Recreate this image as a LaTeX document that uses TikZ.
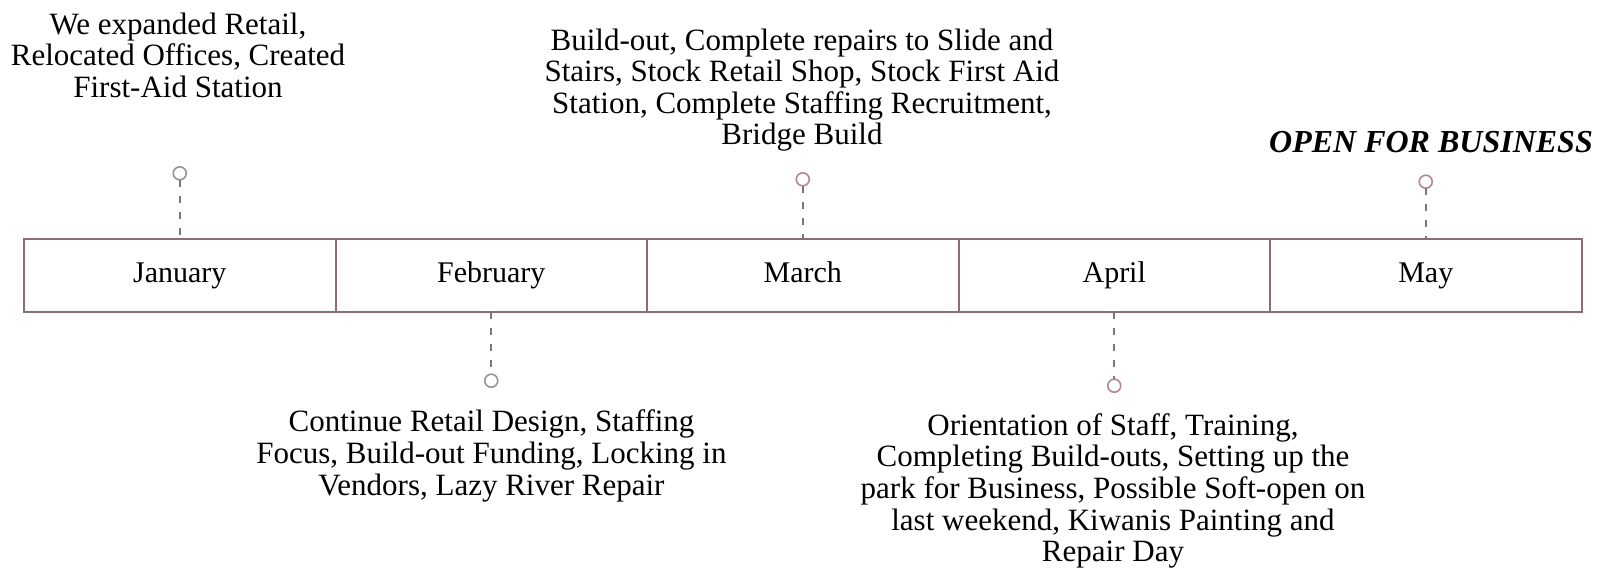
\documentclass[tikz,border=0pt]{standalone}
\usepackage{fontspec}
\setmainfont{Liberation Serif}
\definecolor{barline}{RGB}{143,108,116}
\definecolor{stemgray}{RGB}{120,120,120}
\definecolor{pingray}{RGB}{150,148,150}
\definecolor{pinrose}{RGB}{180,135,145}
\begin{document}
\begin{tikzpicture}[x=0.5pt,y=-0.5pt,
  every node/.style={inner sep=0pt, outer sep=0pt},
  monthcell/.style={draw=barline, line width=1pt, minimum width=155.75pt,
    minimum height=36.5pt, text height=10pt, text depth=3pt,
    font=\fontsize{15}{16}\selectfont},
  pin/.style={circle, draw=#1, line width=0.8pt, minimum size=6.5pt, fill=white},
  stem/.style={draw=stemgray, line width=0.8pt, dash pattern=on 3.5pt off 4.5pt},
  note/.style={align=center, font=\fontsize{15.5}{15.8}\selectfont}
]
\fill[white] (0,0) rectangle (1602,575);
\useasboundingbox (0,0) rectangle (1602,575);

% timeline bar: one cell per month
\node[monthcell] (jan) at (179.75,275.75) {January};
\node[monthcell] (feb) at (491.25,275.75) {February};
\node[monthcell] (mar) at (802.75,275.75) {March};
\node[monthcell] (apr) at (1114.25,275.75) {April};
\node[monthcell] (may) at (1425.75,275.75) {May};

% pins
\node[pin=pingray] (pj) at (179.75,173.3) {};
\node[pin=pingray] (pf) at (491.25,380.7) {};
\node[pin=pinrose] (pm) at (802.75,179.3) {};
\node[pin=pinrose] (pa) at (1114.25,385.7) {};
\node[pin=pinrose] (py) at (1425.75,181.7) {};

% dashed stems from pins to the bar
\draw[stem] (pj.south) -- (jan.north);
\draw[stem] (feb.south) -- (pf.north);
\draw[stem] (pm.south) -- (mar.north);
\draw[stem] (apr.south) -- (pa.north);
\draw[stem] (py.south) -- (may.north);

% milestone notes
\node[note] (tj) at (178,55) {We expanded Retail,\\Relocated Offices, Created\\First-Aid Station};
\node[note] (tm) at (802,90) {Build-out, Complete repairs to Slide and\\Stairs, Stock Retail Shop, Stock First Aid\\Station, Complete Staffing Recruitment,\\Bridge Build};
\node[note] (tf) at (491.5,456) {Continue Retail Design, Staffing\\Focus, Build-out Funding, Locking in\\Vendors, Lazy River Repair};
\node[note] (ta) at (1113,491) {Orientation of Staff, Training,\\Completing Build-outs, Setting up the\\park for Business, Possible Soft-open on\\last weekend, Kiwanis Painting and\\Repair Day};
\node[note, font=\fontsize{16}{16}\selectfont\bfseries\itshape] (ty) at (1431,142) {OPEN FOR BUSINESS};
\end{tikzpicture}
\end{document}
